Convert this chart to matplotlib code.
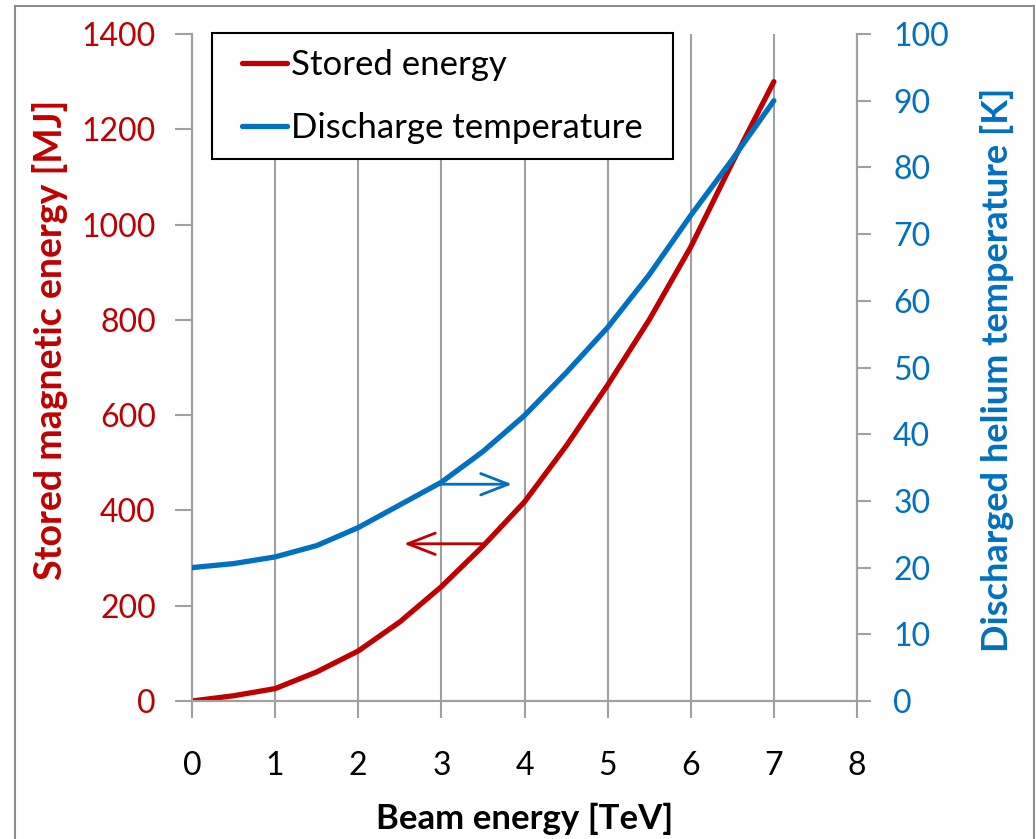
import matplotlib
matplotlib.use("Agg")
import matplotlib.pyplot as plt
from matplotlib.patches import Rectangle

# ---- data ----
beam_energy = [0, 0.5, 1, 1.5, 2, 2.5, 3, 3.5, 4, 4.5, 5, 5.5, 6, 6.5, 7]
stored_energy = [0, 11, 26, 61, 105, 166, 240, 325, 418, 535, 663, 800, 953, 1130, 1300]
discharge_temp = [20, 20.6, 21.6, 23.3, 26.0, 29.4, 32.8, 37.4, 42.8, 49.2, 56.0, 63.9, 72.8, 81.2, 90]

x_ticks = [0, 1, 2, 3, 4, 5, 6, 7, 8]
left_ticks = [0, 200, 400, 600, 800, 1000, 1200, 1400]
right_ticks = [0, 10, 20, 30, 40, 50, 60, 70, 80, 90, 100]

RED = "#C00000"
BLUE = "#0070C0"
GRID = "#A0A0A0"
FONT = "Lato"

plt.rcParams["font.family"] = [FONT, "DejaVu Sans"]

W, H = 1036, 839
fig = plt.figure(figsize=(W / 100, H / 100), dpi=100)
ax = fig.add_axes([192 / W, 1 - 701 / H, (857 - 192) / W, (701 - 34) / H])
ax2 = ax.twinx()

# frame around the chart
fig.patches.append(Rectangle((15 / W, -0.01), (1034 - 15) / W, 1 - 6 / H + 0.01,
                             transform=fig.transFigure, fill=False,
                             edgecolor="#8C8C8C", linewidth=1.5))

ax.plot(beam_energy, stored_energy, color=RED, lw=3.8, solid_capstyle="round",
        solid_joinstyle="round", label="Stored energy", zorder=3)
ax2.plot(beam_energy, discharge_temp, color=BLUE, lw=3.8, solid_capstyle="round",
         solid_joinstyle="round", label="Discharge temperature", zorder=3)

ax.set_xlim(0, 8)
ax.set_ylim(0, 1400)
ax2.set_ylim(0, 100)
ax.set_xticks(x_ticks)
ax.set_yticks(left_ticks)
ax2.set_yticks(right_ticks)

for a in (ax, ax2):
    for s in a.spines.values():
        s.set_color(GRID)
        s.set_linewidth(1.5)
    a.spines["top"].set_visible(False)

ax.xaxis.grid(True, color=GRID, lw=1.5)
ax.set_axisbelow(True)

ax.tick_params(axis="x", direction="out", length=12, width=1.5, color=GRID,
               pad=24, labelsize=23, labelcolor="black")
ax.tick_params(axis="y", direction="out", length=12, width=1.5, color=GRID,
               pad=14, labelsize=23, labelcolor=RED)
ax2.tick_params(axis="y", direction="out", length=10, width=1.5, color=GRID,
                pad=16, labelsize=23, labelcolor=BLUE)

ax.set_xlabel("Beam energy [TeV]", fontsize=25, fontweight="bold")
ax.xaxis.set_label_coords(0.5, (701 - 803) / 667)
ax.xaxis.label.set_va("top")

ax.set_ylabel("Stored magnetic energy [MJ]", fontsize=27, fontweight="bold", color=RED)
ax.yaxis.set_label_coords((50 - 192) / 665, (701 - 340) / 667)
ax.yaxis.label.set_va("center")

ax2.set_ylabel("Discharged helium temperature [K]", fontsize=26, fontweight="bold",
               color=BLUE)
ax2.yaxis.set_label_coords((997 - 192) / 665, (701 - 370) / 667)
ax2.yaxis.label.set_va("center")

# arrows indicating which axis each curve belongs to
ax2.annotate("", xy=(3.85, 32.5), xytext=(2.98, 32.5),
             arrowprops=dict(arrowstyle="->,head_length=0.9,head_width=0.35",
                             color=BLUE, lw=2, mutation_scale=22,
                             shrinkA=0, shrinkB=0))
ax.annotate("", xy=(2.55, 330), xytext=(3.52, 330),
            arrowprops=dict(arrowstyle="->,head_length=0.9,head_width=0.35",
                            color=RED, lw=2, mutation_scale=22,
                            shrinkA=0, shrinkB=0))

# legend box (white, covers the gridlines) and legend contents on top
box = Rectangle((212 / W, 1 - 159 / H), (673 - 212) / W, (159 - 33) / H,
                transform=fig.transFigure, facecolor="white",
                edgecolor="black", linewidth=1.5, zorder=4.5, clip_on=False)
ax2.add_patch(box)

h1, l1 = ax.get_legend_handles_labels()
h2, l2 = ax2.get_legend_handles_labels()
leg = ax2.legend(h1 + h2, l1 + l2, loc="upper left",
                 bbox_to_anchor=(242 / W, 1 - 49 / H), bbox_transform=fig.transFigure,
                 borderaxespad=0, borderpad=0, fontsize=25, frameon=False,
                 handlelength=1.3, handletextpad=0.1, labelspacing=0.9)
leg.set_zorder(6)

fig.savefig("out.png", dpi=100)
